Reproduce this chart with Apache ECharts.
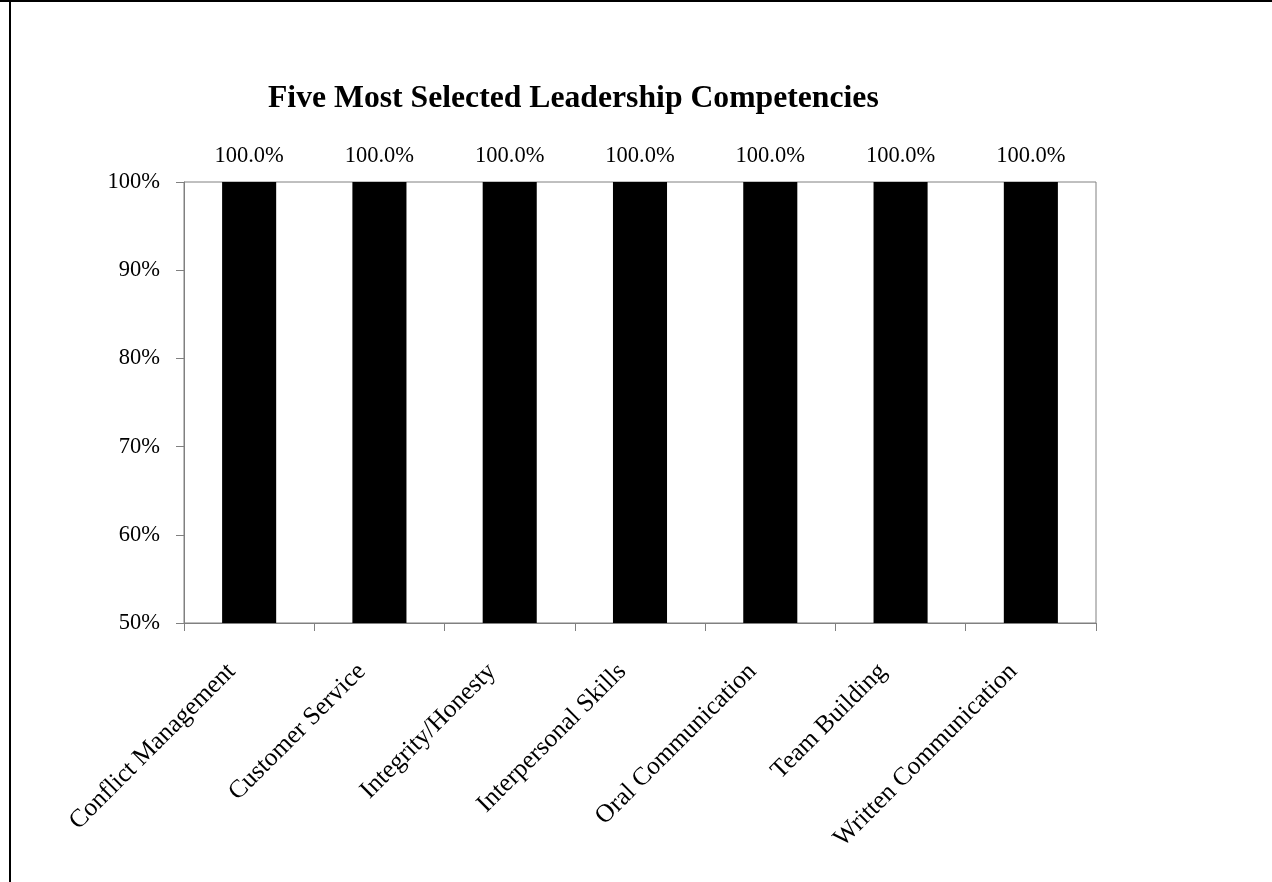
<!DOCTYPE html>
<html>
<head>
<meta charset="utf-8">
<title>Five Most Selected Leadership Competencies</title>
<script src="https://cdn.jsdelivr.net/npm/echarts@6/dist/echarts.min.js"></script>
<style>
  html, body { margin: 0; padding: 0; background: #fff; }
  #chart { width: 1272px; height: 882px; }
</style>
</head>
<body>
<div id="chart"></div>
<script>
// Competencies and the share of respondents selecting each one (percent)
const categories = [
  'Conflict Management',
  'Customer Service',
  'Integrity/Honesty',
  'Interpersonal Skills',
  'Oral Communication',
  'Team Building',
  'Written Communication'
];
const selectedShare = [100, 100, 100, 100, 100, 100, 100];

const SERIF = '"Liberation Serif", "Times New Roman", serif';

const chart = echarts.init(document.getElementById('chart'));
chart.setOption({
  backgroundColor: '#ffffff',
  animation: false,
  title: {
    text: 'Five Most Selected Leadership Competencies',
    left: 263,
    top: 78,
    textStyle: { fontFamily: SERIF, fontSize: 31.7, fontWeight: 'bold', color: '#000' }
  },
  graphic: [
    // frame edges around the figure
    { type: 'line', shape: { x1: 0, y1: 1, x2: 1272, y2: 1 }, style: { stroke: '#000', lineWidth: 2 } },
    { type: 'line', shape: { x1: 10, y1: 0, x2: 10, y2: 882 }, style: { stroke: '#000', lineWidth: 2 } }
  ],
  grid: {
    left: 184, right: 176, top: 182, bottom: 259,
    show: true, borderColor: '#808080', borderWidth: 1, backgroundColor: 'transparent'
  },
  xAxis: {
    type: 'category',
    data: categories,
    boundaryGap: true,
    axisLine: { lineStyle: { color: '#808080', width: 1 } },
    axisTick: { show: true, length: 8, inside: false, lineStyle: { color: '#808080' } },
    axisLabel: {
      rotate: 45, interval: 0, margin: 27,
      padding: [0, 25, 0, 0],
      fontFamily: SERIF, fontSize: 25.5, color: '#000'
    },
    splitLine: { show: false }
  },
  yAxis: {
    type: 'value',
    min: 50, max: 100, interval: 10,
    axisLine: { show: true, lineStyle: { color: '#808080', width: 1 } },
    axisTick: { show: true, length: 8, inside: false, lineStyle: { color: '#808080' } },
    axisLabel: {
      formatter: '{value}%', margin: 24,
      fontFamily: SERIF, fontSize: 22.5, color: '#000'
    },
    splitLine: { show: false }
  },
  series: [{
    type: 'bar',
    data: selectedShare,
    barWidth: '41.5%',
    itemStyle: { color: '#000' },
    label: {
      show: true, position: 'top', distance: 14,
      formatter: p => p.value.toFixed(1) + '%',
      fontFamily: SERIF, fontSize: 22.5, color: '#000'
    }
  }]
});
</script>
</body>
</html>
